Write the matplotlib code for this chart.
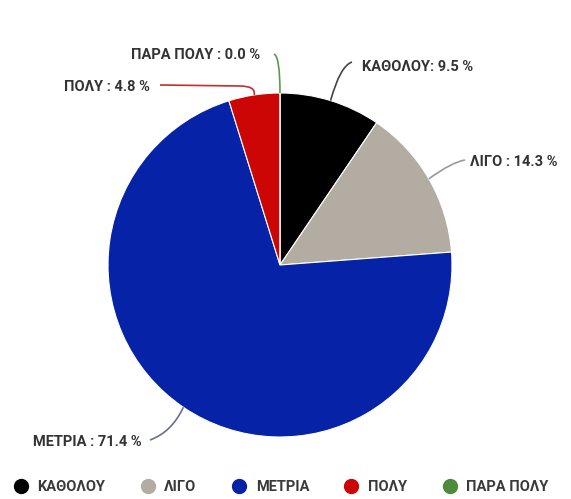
import numpy as np
import matplotlib.pyplot as plt
from matplotlib.path import Path
from matplotlib.patches import PathPatch
from matplotlib.lines import Line2D

labels = ['ΚΑΘΟΛΟΥ', 'ΛΙΓΟ', 'ΜΕΤΡΙΑ', 'ΠΟΛΥ', 'ΠΑΡΑ ΠΟΛΥ']
values = [9.5, 14.3, 71.4, 4.8, 0.0]
colors = ['#000000', '#b3aca3', '#0623a8', '#cc0505', '#4c8a3c']
line_colors = ['#444444', '#9a9a9a', '#6a7088', '#c03030', '#5a9a4a']
label_text = ['ΚΑΘΟΛΟΥ: 9.5 %', 'ΛΙΓΟ : 14.3 %', 'ΜΕΤΡΙΑ : 71.4 %',
              'ΠΟΛΥ : 4.8 %', 'ΠΑΡΑ ΠΟΛΥ : 0.0 %']

W, H = 571, 499
cx, cy, R = 280, 265, 172

plt.rcParams['font.family'] = ['Roboto', 'DejaVu Sans']

fig = plt.figure(figsize=(W / 100, H / 100), dpi=100)
ax = fig.add_axes([0, 0, 1, 1])

ax.pie(values, colors=colors, startangle=90, counterclock=False,
       center=(cx, H - cy), radius=R,
       wedgeprops=dict(edgecolor='white', linewidth=0.8))

# pie() resets the view, so pin the pixel-style limits afterwards
ax.set_xlim(0, W)
ax.set_ylim(0, H)
ax.set_aspect('equal')
ax.axis('off')

# mid-angle anchor on the rim for each slice (clockwise from top)
cum = np.cumsum([0] + values[:-1])
mids = [(c + v / 2) / 100 * 360 for c, v in zip(cum, values)]
anchors = [(cx + R * np.sin(np.radians(a)), cy - R * np.cos(np.radians(a))) for a in mids]

# (ctrl point, end point, text pos, alignment) in pixel coords, y down
layout = [
    ((340, 66), (352, 62), (362, 67), 'left'),
    ((452, 162), (465, 160), (470, 162), 'left'),
    ((172, 432), (150, 440), (142, 442), 'right'),
    ((256, 86), (240, 86), (150, 87), 'right'),
    ((280, 56), (274, 54), (260, 55), 'right'),
]

for (ax0, ay0), (ctrl, end, tpos, ha), txt, lc in zip(anchors, layout, label_text, line_colors):
    if txt.startswith('ΠΟΛΥ'):
        verts = [(ax0, H - ay0), (ctrl[0], H - ctrl[1]), (end[0], H - end[1]), (160, H - 85)]
        codes = [Path.MOVETO, Path.CURVE3, Path.CURVE3, Path.LINETO]
    else:
        verts = [(ax0, H - ay0), (ctrl[0], H - ctrl[1]), (end[0], H - end[1])]
        codes = [Path.MOVETO, Path.CURVE3, Path.CURVE3]
    ax.add_patch(PathPatch(Path(verts, codes), fill=False, edgecolor=lc, linewidth=1.2))
    ax.text(tpos[0], H - tpos[1], txt, ha=ha, va='center', fontsize=10.5,
            fontweight='bold', color='#333333')

handles = [Line2D([], [], marker='o', linestyle='none', markersize=10,
                  markerfacecolor=c, markeredgecolor=c) for c in colors]
leg = ax.legend(handles, labels, loc='center', bbox_to_anchor=(281 / W, 1 - 487 / H),
                ncol=5, frameon=False, handlelength=1.0, handletextpad=0.65,
                columnspacing=2.4, borderpad=0, borderaxespad=0,
                prop=dict(family=['Roboto', 'DejaVu Sans'], weight='bold', size=10.5))
for t in leg.get_texts():
    t.set_color('#3a3a3a')

fig.savefig('out.png', dpi=100)
